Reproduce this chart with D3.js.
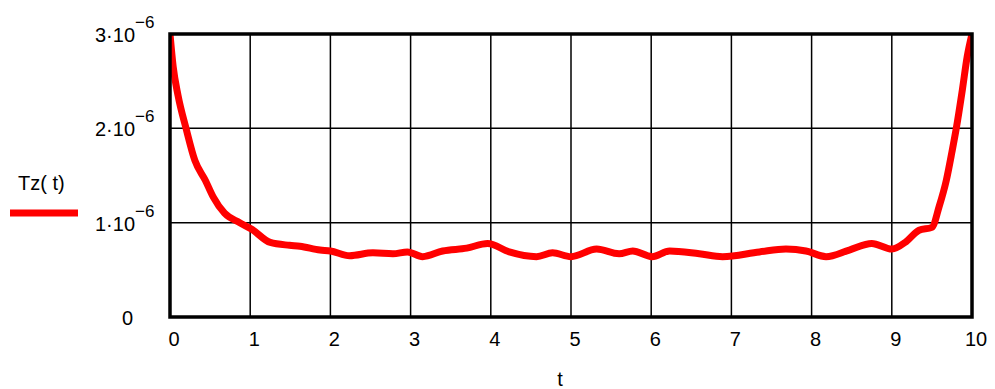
<!DOCTYPE html>
<html>
<head>
<meta charset="utf-8">
<script src="https://cdn.jsdelivr.net/npm/d3@7"></script>
<style>
  body { margin: 0; background: #fff; }
  text { font-family: "Liberation Sans", Arial, sans-serif; fill: #000; }
</style>
</head>
<body>
<div class="graph"></div>
<script>
// sample points (t, Tz in units of 1e-6)
const tValues = [0, 0.04, 0.1, 0.2, 0.31, 0.44, 0.54, 0.68, 0.87, 1.02, 1.25, 1.49, 1.62, 1.87, 2.0,
  2.24, 2.53, 2.78, 2.96, 3.15, 3.4, 3.7, 3.96, 4.23, 4.57, 4.77, 5.0, 5.32, 5.6, 5.77, 6.01, 6.23,
  6.6, 6.89, 7.35, 7.68, 7.93, 8.18, 8.47, 8.75, 9.0, 9.18, 9.34, 9.5, 9.59, 9.68, 9.75, 9.8, 9.88, 9.94, 10];
const tzValues = [3.0, 2.65, 2.35, 2.0, 1.66, 1.45, 1.27, 1.10, 1.0, 0.93, 0.79, 0.76, 0.75, 0.71, 0.70,
  0.65, 0.68, 0.67, 0.69, 0.64, 0.70, 0.73, 0.78, 0.69, 0.64, 0.68, 0.64, 0.72, 0.67, 0.70, 0.64, 0.70,
  0.67, 0.64, 0.69, 0.72, 0.70, 0.64, 0.71, 0.78, 0.72, 0.80, 0.92, 0.95, 1.17, 1.45, 1.75, 1.98, 2.41, 2.76, 3.0];

const xTicks = [0, 1, 2, 3, 4, 5, 6, 7, 8, 9, 10];
const yTicks = [0, 1, 2, 3];   // x 1e-6
const legendLabel = 'Tz( t)';
const xLabel = 't';

const W = 995, H = 389;
const pLeft = 170, pRight = 972, pTop = 34, pBottom = 317;

const svg = d3.select('.graph').append('svg')
  .attr('width', W)
  .attr('height', H);

const x = d3.scaleLinear().domain([0, 10]).range([pLeft, pRight]);
const y = d3.scaleLinear().domain([0, 3]).range([pBottom, pTop]);

// grid
const grid = svg.append('g');
grid.selectAll('.vg').data(xTicks.slice(1, -1)).enter().append('line')
  .attr('x1', d => x(d)).attr('x2', d => x(d))
  .attr('y1', pTop).attr('y2', pBottom)
  .attr('stroke', '#000').attr('stroke-width', 1.5);
grid.selectAll('.hg').data(yTicks.slice(1, -1)).enter().append('line')
  .attr('x1', pLeft).attr('x2', pRight)
  .attr('y1', d => y(d)).attr('y2', d => y(d))
  .attr('stroke', '#000').attr('stroke-width', 1.5);

svg.append('defs').append('clipPath')
  .attr('id', 'clip')
  .append('rect')
  .attr('x', pLeft).attr('y', pTop)
  .attr('width', pRight - pLeft).attr('height', pBottom - pTop);

const line = d3.line()
  .x((d, i) => x(tValues[i]))
  .y(d => y(d))
  .curve(d3.curveMonotoneX);

svg.append('path')
  .datum(tzValues)
  .attr('clip-path', 'url(#clip)')
  .attr('fill', 'none')
  .attr('stroke', '#ff0000')
  .attr('stroke-width', 7)
  .attr('d', line);

// frame
svg.append('rect')
  .attr('x', pLeft).attr('y', pTop)
  .attr('width', pRight - pLeft).attr('height', pBottom - pTop)
  .attr('fill', 'none')
  .attr('stroke', '#000')
  .attr('stroke-width', 3.5);

// x tick labels
svg.selectAll('.xl').data(xTicks).enter().append('text')
  .attr('x', d => x(d) + 4)
  .attr('y', pBottom + 29)
  .attr('text-anchor', 'middle')
  .style('font-size', '20px')
  .text(d => d);

// y tick labels
yTicks.forEach(v => {
  const yy = y(v) + 8;
  if (v === 0) {
    svg.append('text')
      .attr('x', 133).attr('y', yy)
      .attr('text-anchor', 'end')
      .style('font-size', '20px')
      .text('0');
  } else {
    svg.append('text')
      .attr('x', 135).attr('y', yy)
      .attr('text-anchor', 'end')
      .style('font-size', '20px')
      .text(v + '\u00b710');
    svg.append('text')
      .attr('x', 135).attr('y', yy - 14)
      .style('font-size', '17px')
      .text('\u22126');
  }
});

// axis title
svg.append('text')
  .attr('x', 560).attr('y', 386)
  .attr('text-anchor', 'middle')
  .style('font-size', '20px')
  .text(xLabel);

// legend
svg.append('text')
  .attr('x', 18).attr('y', 190)
  .style('font-size', '20px')
  .text(legendLabel);
svg.append('line')
  .attr('x1', 10).attr('x2', 78)
  .attr('y1', 213).attr('y2', 213)
  .attr('stroke', '#ff0000')
  .attr('stroke-width', 7);
</script>
</body>
</html>
